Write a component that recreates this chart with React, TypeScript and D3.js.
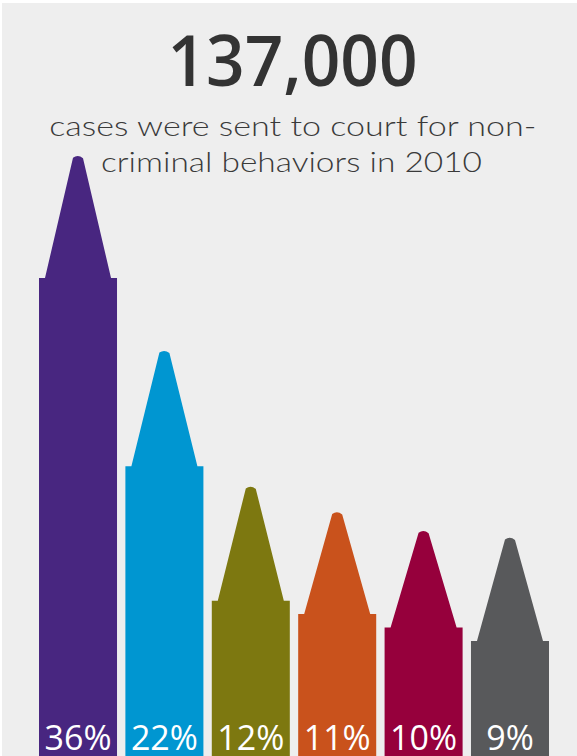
import React from "react";
import * as d3 from "d3";

const categories = ["A", "B", "C", "D", "E", "F"];
const values = [36, 22, 12, 11, 10, 9];
const labels = ["36%", "22%", "12%", "11%", "10%", "9%"];
const colors = ["#482680", "#0096d1", "#7d7810", "#c9521c", "#96003c", "#58595b"];
// crayon tip heights, read in the same percentage units as the values
const tipValues = [9.1, 8.6, 8.5, 7.6, 7.2, 7.7];

const W = 577;
const H = 756;

export default function App() {
  const x = d3.scaleBand<string>().domain(categories).range([39, 549]).paddingInner(0.097).paddingOuter(0);
  const y = d3.scaleLinear().domain([0, 36]).range([762, 278]);
  const pxPerUnit = y(0) - y(1);

  return (
    <svg
      width={W}
      height={H}
      style={{ position: "fixed", top: 0, left: 0, display: "block" }}
      xmlns="http://www.w3.org/2000/svg"
    >
      <rect x={0} y={0} width={W} height={H} fill="#ffffff" />
      <rect x={2} y={3} width={W - 2} height={H - 3} fill="#eeeeee" />

      <text
        x={292.5}
        y={86}
        textAnchor="middle"
        fontFamily="'Open Sans', 'Noto Sans', sans-serif"
        fontWeight={600}
        fontSize={70}
        fill="#333333"
        textLength={250}
        lengthAdjust="spacingAndGlyphs"
      >
        137,000
      </text>
      <text
        x={292.8}
        y={136}
        textAnchor="middle"
        fontFamily="Lato, 'Open Sans', sans-serif"
        fontWeight={300}
        fontSize={28}
        fill="#3a3a3a"
        textLength={487}
        lengthAdjust="spacingAndGlyphs"
      >
        cases were sent to court for non-
      </text>
      <text
        x={291.5}
        y={172}
        textAnchor="middle"
        fontFamily="Lato, 'Open Sans', sans-serif"
        fontWeight={300}
        fontSize={28}
        fill="#3a3a3a"
        textLength={381}
        lengthAdjust="spacingAndGlyphs"
      >
        criminal behaviors in 2010
      </text>

      {categories.map((c, i) => {
        const x0 = x(c)!;
        const bw = x.bandwidth();
        const x1 = x0 + bw;
        const cx = x0 + bw / 2;
        const shoulder = y(values[i]);
        const tipTop = shoulder - tipValues[i] * pxPerUnit;
        const inset = 6;
        const tw = 5;
        const p = d3.path();
        p.moveTo(x0, y(0));
        p.lineTo(x0, shoulder);
        p.lineTo(x0 + inset, shoulder);
        p.lineTo(cx - tw, tipTop + 2);
        p.quadraticCurveTo(cx, tipTop - 1.5, cx + tw, tipTop + 2.5);
        p.lineTo(x1 - inset, shoulder);
        p.lineTo(x1, shoulder);
        p.lineTo(x1, y(0));
        p.closePath();
        return (
          <g key={c}>
            <path d={p.toString()} fill={colors[i]} />
            <text
              x={cx}
              y={750}
              textAnchor="middle"
              fontFamily="'Open Sans', 'Noto Sans', sans-serif"
              fontSize={34}
              fill="#ffffff"
            >
              {labels[i]}
            </text>
          </g>
        );
      })}
    </svg>
  );
}
